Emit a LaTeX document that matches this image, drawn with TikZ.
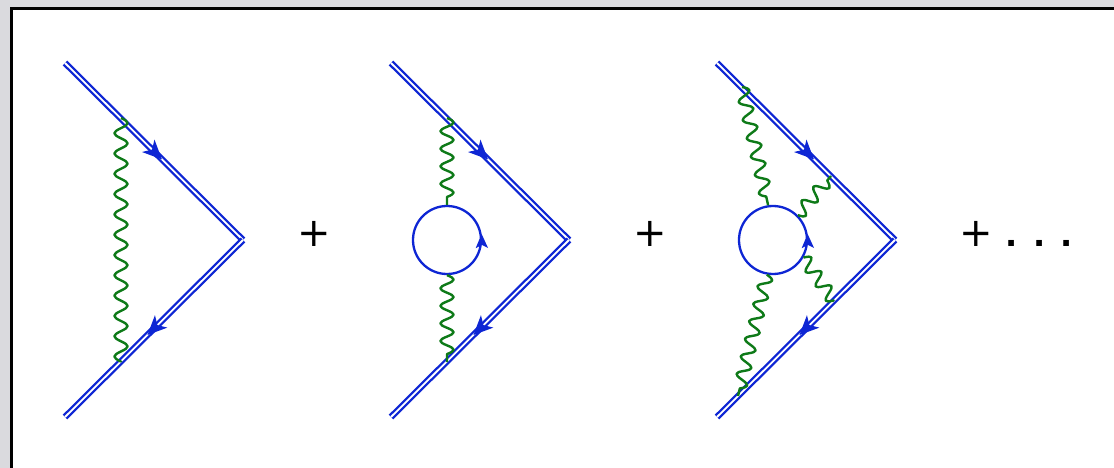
\documentclass[tikz,border=0pt]{standalone}
\usepackage{xcolor}
\usepackage{fontspec}
\setmainfont{DejaVu Sans}
\usetikzlibrary{arrows.meta,decorations,decorations.markings}
\definecolor{lineblue}{RGB}{14,38,212}
\definecolor{photongreen}{RGB}{14,122,24}
\definecolor{pagegray}{RGB}{218,218,222}

% sine-like wave, half a period in each state
\pgfdeclaredecoration{photonwave}{crest}{
  \state{crest}[switch if less than=.5\pgfdecorationsegmentlength to final, width=.5\pgfdecorationsegmentlength, next state=trough]{
    \pgfpathcurveto{\pgfqpoint{.2\pgfdecorationsegmentlength}{1.33\pgfdecorationsegmentamplitude}}{\pgfqpoint{.3\pgfdecorationsegmentlength}{1.33\pgfdecorationsegmentamplitude}}{\pgfqpoint{.5\pgfdecorationsegmentlength}{0pt}}
  }
  \state{trough}[switch if less than=.5\pgfdecorationsegmentlength to final, width=.5\pgfdecorationsegmentlength, next state=crest]{
    \pgfpathcurveto{\pgfqpoint{.2\pgfdecorationsegmentlength}{-1.33\pgfdecorationsegmentamplitude}}{\pgfqpoint{.3\pgfdecorationsegmentlength}{-1.33\pgfdecorationsegmentamplitude}}{\pgfqpoint{.5\pgfdecorationsegmentlength}{0pt}}
  }
  \state{final}{\pgfpathlineto{\pgfpointdecoratedpathlast}}
}

\begin{document}
\begin{tikzpicture}[
  x=1pt, y=-1pt,
  fermion/.style={lineblue, line width=2.3pt, double=white, double distance=1.8pt},
  flow/.style={postaction={decorate, decoration={markings, mark=at position #1 with {\arrow[lineblue]{Stealth[length=19pt, width=17pt, inset=5pt]}}}}},
  photon/.style={photongreen, line width=2.4pt, line join=round, decorate, decoration={photonwave, amplitude=6.6pt, segment length=#1}},
  photonflip/.style={photongreen, line width=2.4pt, line join=round, decorate, decoration={photonwave, amplitude=-6.6pt, segment length=#1}},
  loopnode/.style={draw=lineblue, circle, line width=2.3pt, minimum size=68pt, inner sep=0pt},
  looptip/.style={lineblue, line width=2.3pt, -{Stealth[length=14pt, width=12pt, inset=3pt]}},
  sign/.style={inner sep=0pt, font=\fontsize{40}{40}\selectfont}
]
  \useasboundingbox (0,0) rectangle (1114,468);
  \fill[pagegray] (0,0) rectangle (1114,468);
  \draw[fill=white, line width=3pt] (11,9) rectangle (1130,490);

  % the three fermion lines
  \foreach \n/\dx in {1/0, 2/326, 3/652} {
    \coordinate (top\n) at (65+\dx,63);
    \coordinate (apex\n) at (243+\dx,240);
    \coordinate (bot\n) at (65+\dx,417);
    \draw[fermion, flow=0.545] (top\n) -- (apex\n);
    \draw[fermion, flow=0.537] (apex\n) -- (bot\n);
  }

  % first graph
  \coordinate (a1) at (121,118);
  \coordinate (b1) at (121,362);
  \draw[photon=20.3pt] (a1) -- (b1);

  % second graph
  \node[loopnode] (loop2) at (447,240) {};
  \draw[looptip] (loop2.-8) -- (loop2.10);
  \coordinate (a2) at (447,118);
  \coordinate (b2) at (447,362);
  \draw[photon=17.55pt] (a2) -- (loop2.90);
  \draw[photon=17.55pt] (loop2.-90) -- (b2);

  % third graph
  \node[loopnode] (loop3) at (773,240) {};
  \draw[looptip] (loop3.-8) -- (loop3.10);
  \coordinate (a3) at (742,87);
  \coordinate (b3) at (831,176);
  \coordinate (c3) at (834,301);
  \coordinate (d3) at (738,396);
  \draw[photon=18.7pt] (a3) -- (loop3.98);
  \draw[photonflip=18.2pt] (loop3.45) -- (b3);
  \draw[photon=17.5pt] (loop3.-30) -- (c3);
  \draw[photon=18pt] (loop3.-100) -- (d3);

  % signs
  \node[sign] (plus1) at (314,234) {+};
  \node[sign] (plus2) at (650,234) {+};
  \node[sign] (plus3) at (976,234) {+};
  \node[sign, anchor=base west, font=\fontsize{32}{32}\selectfont\bfseries] (dots) at (1005.5,246) {\spaceskip=11.5pt . . .};
\end{tikzpicture}
\end{document}
